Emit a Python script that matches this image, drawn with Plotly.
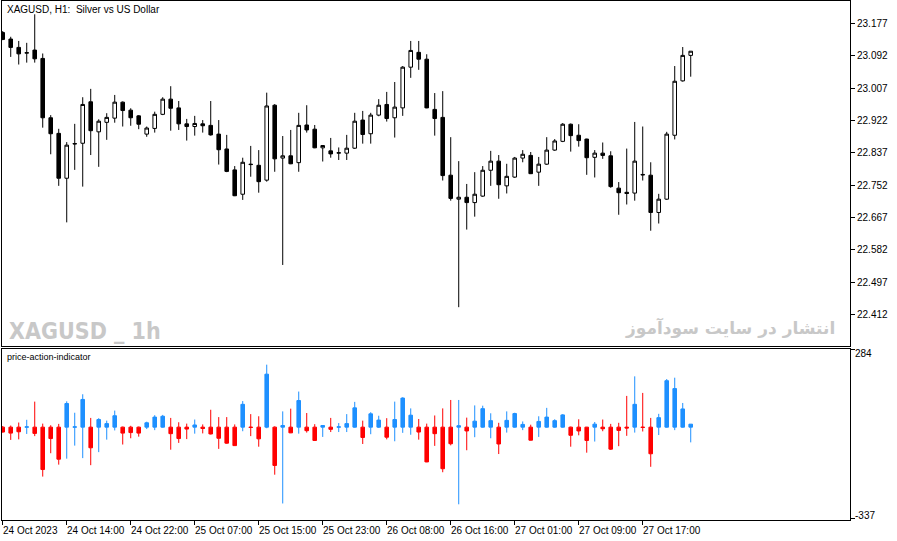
import numpy as np
import plotly.graph_objects as go

# ---- data (XAGUSD H1) ----
opens = [23.153, 23.136, 23.114, 23.099, 23.107, 23.085, 22.929, 22.888, 22.770, 22.860,
         22.862, 22.971, 22.892, 22.917, 22.928, 22.970, 22.949, 22.934, 22.886, 22.901,
         22.938, 22.978, 22.955, 22.913, 22.906, 22.913, 22.909, 22.886, 22.847, 22.792,
         22.728, 22.807, 22.804, 22.765, 22.962, 22.823, 22.829, 22.811, 22.910, 22.899,
         22.850, 22.842, 22.836, 22.836, 22.849, 22.923, 22.887, 22.936, 22.964, 22.929,
         22.955, 23.062, 23.101, 23.083, 22.951, 22.930, 22.778, 22.715, 22.720, 22.706,
         22.723, 22.791, 22.815, 22.750, 22.773, 22.823, 22.830, 22.786, 22.807, 22.844,
         22.867, 22.912, 22.883, 22.873, 22.825, 22.836, 22.829, 22.744, 22.733, 22.731,
         22.780, 22.778, 22.680, 22.715, 22.883, 23.026, 23.093]
highs = [23.157, 23.142, 23.131, 23.126, 23.201, 23.098, 22.936, 22.900, 22.865, 22.913,
         22.983, 23.005, 22.925, 22.941, 22.989, 22.972, 22.954, 22.936, 22.906, 22.945,
         22.983, 23.012, 22.973, 22.926, 22.934, 22.923, 22.973, 22.923, 22.884, 22.802,
         22.824, 22.855, 22.844, 22.995, 22.965, 22.881, 22.897, 22.942, 22.962, 22.910,
         22.857, 22.876, 22.851, 22.884, 22.942, 22.947, 22.942, 22.978, 22.997, 23.023,
         23.065, 23.131, 23.131, 23.096, 22.994, 22.999, 22.878, 22.815, 22.755, 22.786,
         22.802, 22.842, 22.831, 22.808, 22.826, 22.844, 22.839, 22.826, 22.878, 22.873,
         22.915, 22.914, 22.912, 22.874, 22.844, 22.864, 22.841, 22.760, 22.848, 22.918,
         22.906, 22.812, 22.729, 22.892, 23.065, 23.115, 23.104]
lows = [23.133, 23.089, 23.069, 23.074, 23.074, 22.903, 22.833, 22.750, 22.654, 22.792,
        22.748, 22.831, 22.800, 22.871, 22.916, 22.906, 22.908, 22.899, 22.879, 22.890,
        22.936, 22.895, 22.897, 22.869, 22.882, 22.890, 22.882, 22.806, 22.786, 22.723,
        22.713, 22.774, 22.732, 22.761, 22.787, 22.542, 22.807, 22.787, 22.890, 22.849,
        22.814, 22.824, 22.818, 22.818, 22.847, 22.861, 22.861, 22.933, 22.919, 22.877,
        22.934, 23.034, 23.055, 22.954, 22.882, 22.764, 22.711, 22.431, 22.635, 22.669,
        22.721, 22.750, 22.716, 22.730, 22.771, 22.812, 22.781, 22.750, 22.805, 22.842,
        22.865, 22.840, 22.853, 22.779, 22.772, 22.821, 22.745, 22.674, 22.701, 22.711,
        22.764, 22.632, 22.651, 22.713, 22.872, 23.024, 23.037]
closes = [23.135, 23.114, 23.097, 23.100, 23.084, 22.929, 22.887, 22.770, 22.857, 22.861,
          22.964, 22.895, 22.920, 22.930, 22.970, 22.948, 22.929, 22.912, 22.902, 22.938,
          22.978, 22.954, 22.913, 22.906, 22.914, 22.908, 22.884, 22.845, 22.788, 22.724,
          22.812, 22.806, 22.761, 22.960, 22.821, 22.829, 22.808, 22.909, 22.897, 22.850,
          22.856, 22.834, 22.837, 22.849, 22.920, 22.885, 22.936, 22.962, 22.927, 22.957,
          23.062, 23.106, 23.083, 22.955, 22.927, 22.777, 22.717, 22.720, 22.706, 22.728,
          22.791, 22.815, 22.753, 22.775, 22.823, 22.833, 22.782, 22.807, 22.844, 22.868,
          22.912, 22.882, 22.869, 22.824, 22.836, 22.830, 22.748, 22.732, 22.730, 22.815,
          22.779, 22.680, 22.715, 22.886, 23.025, 23.093, 23.104]

time_labels = ["24 Oct 2023", "24 Oct 14:00", "24 Oct 22:00", "25 Oct 07:00",
               "25 Oct 15:00", "25 Oct 23:00", "26 Oct 08:00", "26 Oct 16:00",
               "27 Oct 01:00", "27 Oct 09:00", "27 Oct 17:00"]
label_bars = [0, 8, 16, 24, 32, 40, 48, 56, 64, 72, 80]
price_ticks = [23.177, 23.092, 23.007, 22.922, 22.837, 22.752, 22.667, 22.582, 22.497, 22.412]
ind_ticks = [284, -337]

bars = list(range(len(opens)))

# price-action-indicator: candle measured from its open, in points
o = np.array(opens); h = np.array(highs); l = np.array(lows); c = np.array(closes)
pts = 1000.0
ind_open = np.zeros(len(o))
ind_high = np.round((h - o) * pts)
ind_low = np.round((l - o) * pts)
ind_close = np.round((c - o) * pts)

FONT = "Liberation Sans, Arial, sans-serif"
BLUE = "#1E90FF"
RED = "#FF0000"

fig = go.Figure()
fig.add_trace(go.Candlestick(
    x=bars, open=opens, high=highs, low=lows, close=closes,
    increasing=dict(line=dict(color="black", width=1), fillcolor="white"),
    decreasing=dict(line=dict(color="black", width=1), fillcolor="black"),
    whiskerwidth=0, xaxis="x", yaxis="y", showlegend=False, hoverinfo="skip"))
fig.add_trace(go.Candlestick(
    x=bars, open=ind_open, high=ind_high, low=ind_low, close=ind_close,
    increasing=dict(line=dict(color=BLUE, width=1), fillcolor=BLUE),
    decreasing=dict(line=dict(color=RED, width=1), fillcolor=RED),
    whiskerwidth=0, xaxis="x2", yaxis="y2", showlegend=False, hoverinfo="skip"))

xr = [-0.09, 105.91]
axis_common = dict(showline=True, mirror=True, linecolor="black", linewidth=1,
                   showgrid=False, zeroline=False)

fig.update_layout(
    width=897, height=541,
    margin=dict(l=2, r=47, t=1, b=21, autoexpand=False),
    paper_bgcolor="white", plot_bgcolor="white",
    boxgap=0.36,
    font=dict(family=FONT, size=10, color="black"),
    xaxis=dict(domain=[0, 1], anchor="y", range=xr, showticklabels=False, ticks="",
               rangeslider=dict(visible=False), fixedrange=True, **axis_common),
    yaxis=dict(domain=[0.3353, 1], anchor="x", side="right", range=[22.329, 23.236],
               tickvals=price_ticks, ticktext=[f"{v:.3f}" for v in price_ticks],
               ticks="outside", ticklen=4, tickcolor="black", tickwidth=1,
               tickfont=dict(family=FONT, size=10, color="black"), **axis_common),
    xaxis2=dict(domain=[0, 1], anchor="y2", range=xr, tickvals=label_bars,
                showticklabels=False, ticks="outside", ticklen=4, tickcolor="black",
                rangeslider=dict(visible=False), **axis_common),
    yaxis2=dict(domain=[0, 0.3295], anchor="x2", side="right", range=[-341.8, 287.7],
                tickvals=ind_ticks, showticklabels=False,
                ticks="outside", ticklen=4, tickcolor="black", tickwidth=1,
                **axis_common),
)

ann = []
ann.append(dict(text="XAGUSD, H1:  Silver vs US Dollar", xref="paper", yref="paper",
                x=0.004, y=0.999, xanchor="left", yanchor="top", showarrow=False,
                font=dict(family=FONT, size=10, color="black")))
ann.append(dict(text="price-action-indicator", xref="paper", yref="paper",
                x=0.004, y=0.3275, xanchor="left", yanchor="top", showarrow=False,
                font=dict(family=FONT, size=9, color="black")))
ann.append(dict(text="<b>XAGUSD _ 1h</b>", xref="paper", yref="paper",
                x=0.006, y=0.344, xanchor="left", yanchor="bottom", yshift=-5, showarrow=False,
                font=dict(family="Liberation Sans Narrow, DejaVu Sans Condensed, Liberation Sans, sans-serif",
                          size=23, color="#C8C8C8")))
ann.append(dict(text="<b>انتشار در سایت سودآموز</b>", xref="paper", yref="paper",
                x=0.9835, y=0.348, xanchor="right", yanchor="bottom", xshift=1, yshift=-2,
                showarrow=False,
                font=dict(family="DejaVu Sans, sans-serif", size=17, color="#C8C8C8")))
for v, shift in zip(ind_ticks, [-4, 3]):
    ann.append(dict(text=str(v), xref="paper", yref="y2", x=1, y=v, xanchor="left",
                    yanchor="middle", xshift=3, yshift=shift, showarrow=False,
                    font=dict(family=FONT, size=10, color="black")))
for b, t in zip(label_bars, time_labels):
    ann.append(dict(text=t, xref="x2", yref="paper", x=b, y=-0.005, xanchor="left",
                    yanchor="top", xshift=-2, showarrow=False,
                    font=dict(family=FONT, size=10, color="black")))
fig.update_layout(annotations=ann)

fig.write_html("out.html", config={"displayModeBar": False},
               post_script="document.body.style.margin='0px';document.body.style.overflow='hidden';")
